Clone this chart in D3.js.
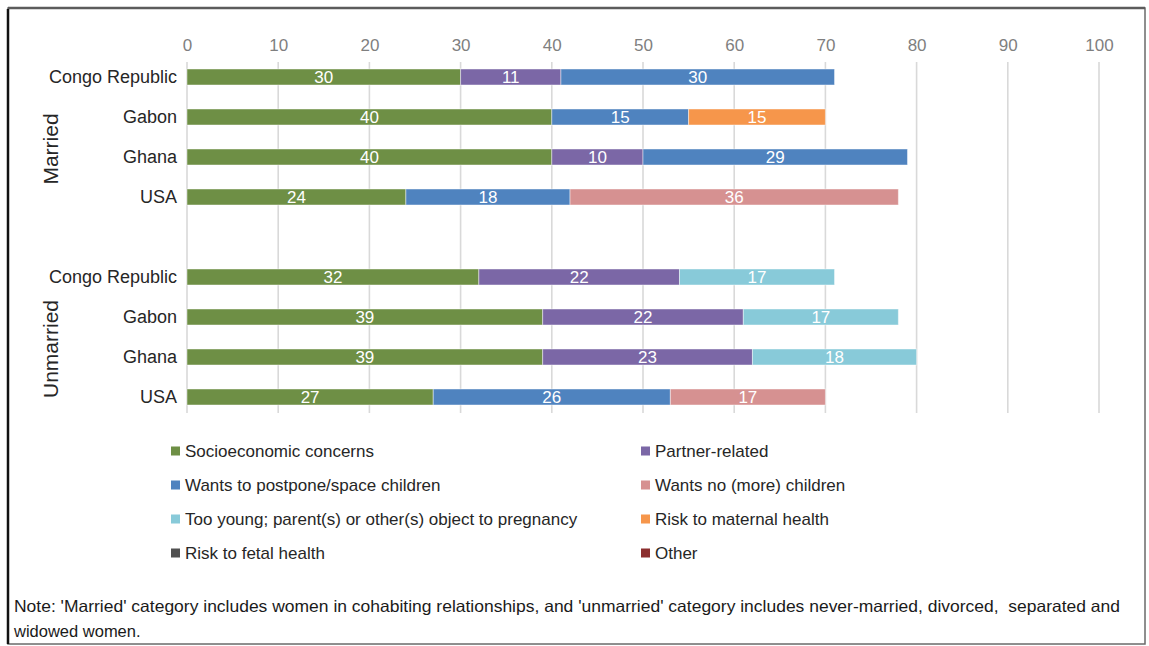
<!DOCTYPE html>
<html>
<head>
<meta charset="utf-8">
<script src="https://cdn.jsdelivr.net/npm/d3@7/dist/d3.min.js"></script>
<style>
  html, body { margin: 0; padding: 0; background: #fff; }
  svg { display: block; font-family: "Liberation Sans", Arial, Helvetica, sans-serif; }
</style>
</head>
<body>
<svg id="chart" width="1149" height="646"></svg>
<script>
// Reasons for not wanting a pregnancy, by marital status and country (%)
const groups = ["Married", "Unmarried"];
const countries = ["Congo Republic", "Gabon", "Ghana", "USA"];
const rowKeys = [
  "Married|Congo Republic", "Married|Gabon", "Married|Ghana", "Married|USA",
  "gap",
  "Unmarried|Congo Republic", "Unmarried|Gabon", "Unmarried|Ghana", "Unmarried|USA"
];

const seriesNames = [
  "Socioeconomic concerns",
  "Partner-related",
  "Wants to postpone/space children",
  "Wants no (more) children",
  "Too young; parent(s) or other(s) object to pregnancy",
  "Risk to maternal health",
  "Risk to fetal health",
  "Other"
];
const seriesColors = ["#6e8f45", "#7b67a6", "#4f83bf", "#d69191", "#88cad9", "#f6964b", "#505050", "#8b2e2e"];

// values per row, rows ordered Married (Congo, Gabon, Ghana, USA) then Unmarried (same order)
const socioeconomic = [30, 40, 40, 24, 32, 39, 39, 27];
const partnerRelated = [11, 0, 10, 0, 22, 22, 23, 0];
const postponeSpace = [30, 15, 29, 18, 0, 0, 0, 26];
const noMoreChildren = [0, 0, 0, 36, 0, 0, 0, 17];
const tooYoung = [0, 0, 0, 0, 17, 17, 18, 0];
const maternalHealth = [0, 15, 0, 0, 0, 0, 0, 0];
const fetalHealth = [0, 0, 0, 0, 0, 0, 0, 0];
const otherReason = [0, 0, 0, 0, 0, 0, 0, 0];

const xTicks = [0, 10, 20, 30, 40, 50, 60, 70, 80, 90, 100];

const noteLines = [
  "Note: 'Married' category includes women in cohabiting relationships, and 'unmarried' category includes never-married, divorced,  separated and",
  "widowed women."
];

// ---- build table for the stack
const seriesValues = [socioeconomic, partnerRelated, postponeSpace, noMoreChildren,
                      tooYoung, maternalHealth, fetalHealth, otherReason];
const dataRows = [];
groups.forEach((g, gi) => {
  countries.forEach((c, ci) => {
    const i = gi * countries.length + ci;
    const row = { key: g + "|" + c, group: g, country: c };
    seriesNames.forEach((s, si) => { row[s] = seriesValues[si][i]; });
    dataRows.push(row);
  });
});

const svg = d3.select("#chart");

// frame
svg.append("rect")
  .attr("x", 8).attr("y", 8).attr("width", 1137).attr("height", 636)
  .attr("fill", "#fff").attr("stroke", "#6a6a6a").attr("stroke-width", 1.5);
svg.append("line")
  .attr("x1", 8).attr("x2", 1145).attr("y1", 8).attr("y2", 8)
  .attr("stroke", "#5c5c5c").attr("stroke-width", 2.5);
svg.append("line")
  .attr("x1", 8).attr("x2", 8).attr("y1", 9).attr("y2", 644)
  .attr("stroke", "#111").attr("stroke-width", 2.5);

const x = d3.scaleLinear().domain([0, 100]).range([187, 1099]);
const y = d3.scaleBand().domain(rowKeys).range([57, 417]).paddingInner(0.6).paddingOuter(0.3);

// vertical gridlines
svg.append("g").selectAll("line")
  .data(xTicks)
  .join("line")
  .attr("x1", d => x(d)).attr("x2", d => x(d))
  .attr("y1", 62).attr("y2", 413)
  .attr("stroke", "#d9d9d9").attr("stroke-width", 1.6);

// top axis labels
const axis = svg.append("g")
  .attr("transform", "translate(0,58)")
  .call(d3.axisTop(x).tickValues(xTicks).tickSize(0).tickPadding(7).tickFormat(d3.format("d")));
axis.select(".domain").remove();
axis.selectAll("text")
  .attr("fill", "#7f7f7f")
  .style("font-size", "17px")
  .style("font-family", "\"Liberation Sans\", Arial, sans-serif");

// stacked segments
const stack = d3.stack().keys(seriesNames);
const stacked = stack(dataRows);
const color = d3.scaleOrdinal().domain(seriesNames).range(seriesColors);

const layers = svg.append("g").selectAll("g")
  .data(stacked)
  .join("g")
  .attr("fill", d => color(d.key));

layers.selectAll("rect")
  .data(d => d.filter(s => s[1] - s[0] > 0))
  .join("rect")
  .attr("x", d => x(d[0]))
  .attr("width", d => x(d[1]) - x(d[0]))
  .attr("y", d => y(d.data.key))
  .attr("height", y.bandwidth())
  .attr("stroke", "#ffffff")
  .attr("stroke-opacity", 0.45)
  .attr("stroke-width", 1);

// value labels
layers.selectAll("text")
  .data(d => d.filter(s => s[1] - s[0] > 0))
  .join("text")
  .attr("x", d => (x(d[0]) + x(d[1])) / 2)
  .attr("y", d => y(d.data.key) + y.bandwidth() / 2)
  .attr("dy", "0.36em")
  .attr("text-anchor", "middle")
  .attr("fill", "#ffffff")
  .style("font-size", "17px")
  .text(d => d[1] - d[0]);

// country labels
svg.append("g").selectAll("text")
  .data(dataRows)
  .join("text")
  .attr("x", 177)
  .attr("y", d => y(d.key) + y.bandwidth() / 2)
  .attr("dy", "0.36em")
  .attr("text-anchor", "end")
  .attr("fill", "#262626")
  .style("font-size", "18px")
  .text(d => d.country);

// group labels (rotated), sitting a little below the middle of their rows
svg.append("g").selectAll("text")
  .data(groups)
  .join("text")
  .attr("transform", g => {
    const keys = rowKeys.filter(k => k.startsWith(g + "|"));
    const cy = (y(keys[0]) + y(keys[keys.length - 1]) + y.bandwidth()) / 2 + 12;
    return `translate(58,${cy}) rotate(-90)`;
  })
  .attr("text-anchor", "middle")
  .attr("fill", "#262626")
  .style("font-size", "21px")
  .text(d => d);

// legend: two columns
const legendCols = [171, 641];
const legendRows = [451, 485, 519, 553];
const legend = svg.append("g").selectAll("g")
  .data(seriesNames)
  .join("g")
  .attr("transform", (d, i) => `translate(${legendCols[i % 2]},${legendRows[Math.floor(i / 2)]})`);
legend.append("rect")
  .attr("x", 0).attr("y", -4.5).attr("width", 9).attr("height", 9)
  .attr("fill", d => color(d));
legend.append("text")
  .attr("x", 14).attr("dy", "0.36em")
  .attr("fill", "#262626")
  .style("font-size", "17px")
  .text(d => d);

// footnote
svg.append("g").selectAll("text")
  .data(noteLines)
  .join("text")
  .attr("x", 14)
  .attr("y", (d, i) => 612 + i * 25)
  .attr("fill", "#1a1a1a")
  .style("font-size", "16.5px")
  .style("white-space", "pre")
  .each(function (d, i) {
    if (i === 0) d3.select(this).attr("textLength", 1106).attr("lengthAdjust", "spacingAndGlyphs");
  })
  .text(d => d);
</script>
</body>
</html>
